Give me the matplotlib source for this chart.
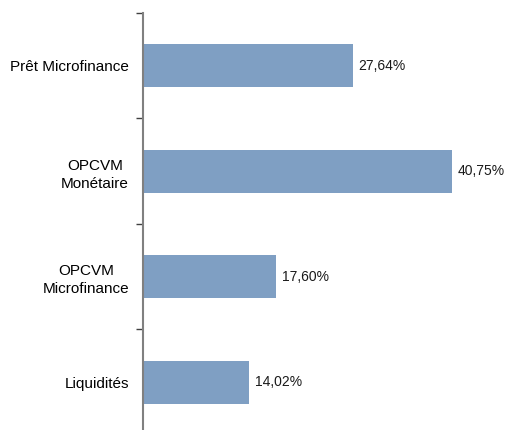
import matplotlib.pyplot as plt

# Categories from top to bottom
categories = ['Prêt Microfinance', 'OPCVM\nMonétaire', 'OPCVM\nMicrofinance', 'Liquidités']
values = [27.64, 40.75, 17.60, 14.02]
value_labels = ['27,64%', '40,75%', '17,60%', '14,02%']

plt.rcParams['font.family'] = ['Liberation Sans', 'DejaVu Sans']

fig = plt.figure(figsize=(5.07, 4.30), dpi=100)
ax = fig.add_axes([0.282, -0.0116, 0.718, 0.9814])

pos = list(range(len(categories)))
bars = ax.barh(pos, values, height=0.41, color='#7f9fc3')
ax.bar_label(bars, labels=value_labels, padding=4, fontsize=10, color='#1a1a1a')

ax.set_xlim(0, 48)
ax.set_ylim(len(categories) - 0.5, -0.5)

# Tick marks between categories, labels centred on bars
ax.set_yticks([p - 0.5 for p in pos] + [len(categories) - 0.5])
ax.set_yticklabels([])
ax.set_yticks(pos, minor=True)
ax.set_yticklabels(categories, minor=True, fontsize=11, ha='right',
                   multialignment='center', linespacing=1.35)
ax.tick_params(axis='y', which='major', length=5, width=1, color='#404040')
ax.tick_params(axis='y', which='minor', length=0, pad=10)
ax.set_xticks([])

for side in ['top', 'right', 'bottom']:
    ax.spines[side].set_visible(False)
ax.spines['left'].set_color('#808080')
ax.spines['left'].set_linewidth(1.5)

fig.savefig('out.png', dpi=100)
